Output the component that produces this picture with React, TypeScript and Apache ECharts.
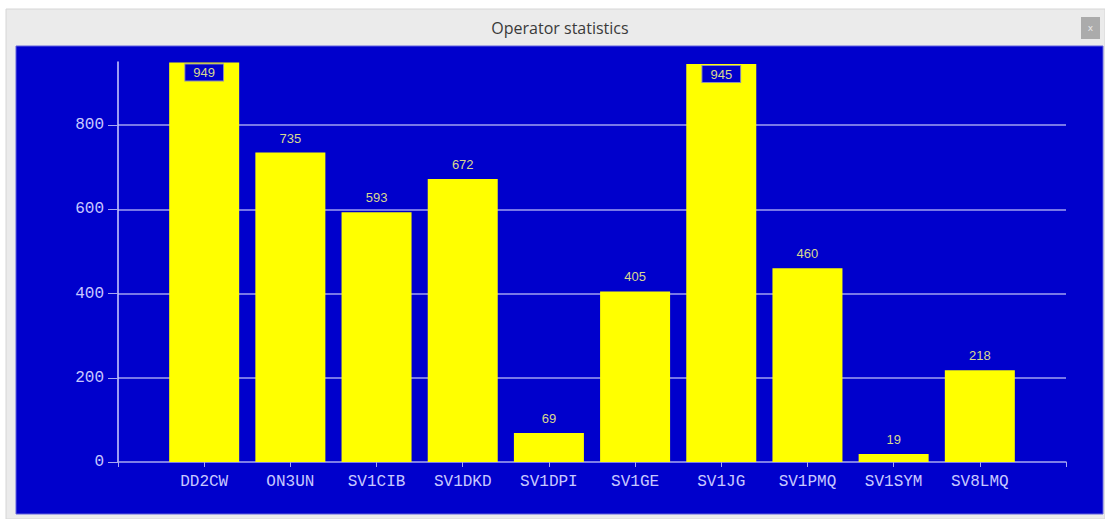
import React, { useEffect, useRef } from "react";
import * as echarts from "echarts";

const categories = ["DD2CW", "ON3UN", "SV1CIB", "SV1DKD", "SV1DPI", "SV1GE", "SV1JG", "SV1PMQ", "SV1SYM", "SV8LMQ"];
const counts = [949, 735, 593, 672, 69, 405, 945, 460, 19, 218];
const yTicks = [0, 200, 400, 600, 800];
const yMax = 950;
const title = "Operator statistics";

export default function App() {
  const ref = useRef<HTMLDivElement>(null);
  useEffect(() => {
    if (!ref.current) return;
    const chart = echarts.init(ref.current, undefined, { renderer: "svg" });
    const padded = ["", ...categories, ""];
    const data: any[] = [null];
    counts.forEach((v) => {
      if (v > 900) {
        data.push({
          value: v,
          label: {
            show: true,
            position: "insideTop",
            distance: 2,
            backgroundColor: "#0000cc",
            borderColor: "#9090b0",
            borderWidth: 1,
            padding: [2, 8, 1, 8],
            color: "#d8d890",
          },
        });
      } else {
        data.push(v);
      }
    });
    data.push(null);
    chart.setOption({
      animation: false,
      backgroundColor: "#ffffff",
      graphic: [
        { type: "rect", z: -10, shape: { x: 6, y: 9, width: 1099, height: 510 }, style: { fill: "#ebebeb", stroke: "#d6d6d6", lineWidth: 1 } },
        { type: "rect", z: -9, shape: { x: 16, y: 46, width: 1087, height: 468 }, style: { fill: "#0000cc", stroke: "#6060dd", lineWidth: 1 } },
        { type: "text", x: 560, y: 28, style: { text: title, fontFamily: "Open Sans", fontSize: 16, fill: "#3a3a3a", align: "center", verticalAlign: "middle" } },
        { type: "rect", shape: { x: 1081, y: 17, width: 19, height: 22 }, style: { fill: "#ababab" } },
        { type: "text", x: 1090.5, y: 28, style: { text: "x", fontFamily: "DejaVu Sans", fontSize: 9, fill: "#e8e8e8", align: "center", verticalAlign: "middle" } },
      ],
      grid: { left: 118, right: 39, top: 62, bottom: 57, containLabel: false },
      xAxis: {
        type: "category",
        data: padded,
        boundaryGap: false,
        axisLine: { show: true, lineStyle: { color: "#a8a8f0", width: 1.5 } },
        axisTick: { show: true, length: 5, lineStyle: { color: "#a8a8f0" } },
        axisLabel: { show: true, interval: 0, color: "#c8c8ff", fontFamily: "Liberation Mono", fontSize: 16, margin: 12 },
        splitLine: { show: false },
      },
      yAxis: {
        type: "value",
        min: yTicks[0],
        max: yMax,
        interval: yTicks[1] - yTicks[0],
        axisLine: { show: true, lineStyle: { color: "#d0d0ff", width: 1.5 } },
        axisTick: { show: true, length: 10, lineStyle: { color: "#a8a8f0" } },
        axisLabel: { color: "#c8c8ff", fontFamily: "Liberation Mono", fontSize: 16, margin: 14, showMaxLabel: false },
        splitLine: { show: true, showMaxLine: false, showMinLine: false, lineStyle: { color: "#a0a0f0", width: 1.5 } },
      },
      series: [
        {
          type: "bar",
          data,
          barWidth: 70,
          itemStyle: { color: "#ffff00" },
          label: { show: true, position: "top", distance: 8, color: "#d8d890", fontFamily: "Liberation Sans", fontSize: 13 },
        },
      ],
    });
    return () => chart.dispose();
  }, []);
  return <div ref={ref} style={{ position: "absolute", left: 0, top: 0, width: 1105, height: 519 }} />;
}
